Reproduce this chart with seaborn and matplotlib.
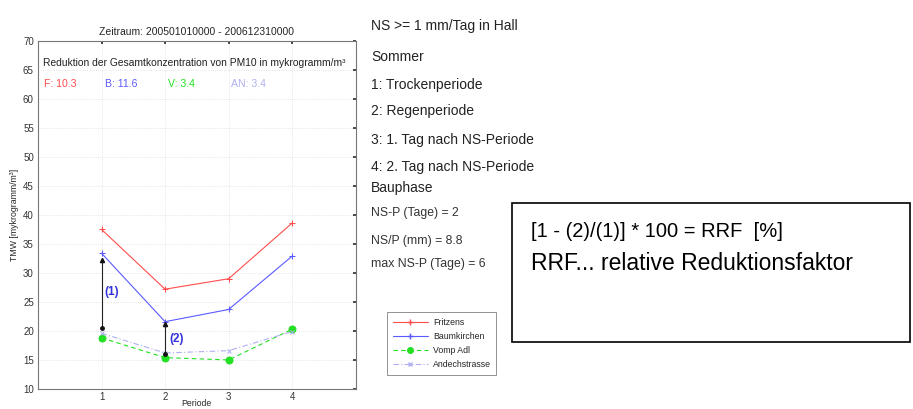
import matplotlib
matplotlib.use("Agg")
import matplotlib.pyplot as plt
import seaborn as sns
import pandas as pd
from matplotlib.patches import Rectangle
from matplotlib.lines import Line2D

sns.set_theme(style="white")
plt.rcParams['font.family'] = ['Liberation Sans', 'DejaVu Sans']

periods = [1, 2, 3, 4]
fritzens = [37.5, 27.2, 29.0, 38.6]
baumkirchen = [33.4, 21.6, 23.7, 32.9]
vomp_adl = [18.8, 15.4, 15.0, 20.3]
andechstrasse = [19.6, 16.2, 16.6, 19.9]
series_names = ["Fritzens", "Baumkirchen", "Vomp Adl", "Andechstrasse"]
reductions = ["F: 10.3", "B: 11.6", "V: 3.4", "AN: 3.4"]
arrow1 = [20.5, 32.2]
arrow2 = [16.0, 21.2]
yticks = [10, 15, 20, 25, 30, 35, 40, 45, 50, 55, 60, 65, 70]

df = pd.DataFrame({
    "Periode": periods * 4,
    "TMW": fritzens + baumkirchen + vomp_adl + andechstrasse,
    "Station": sum([[n] * 4 for n in series_names], []),
})

colors = {"Fritzens": "#ff4d4d", "Baumkirchen": "#5a5aff",
          "Vomp Adl": "#22e022", "Andechstrasse": "#b0b0f0"}
styles = {"Fritzens": dict(ls="-", marker="+", ms=5, lw=0.8),
          "Baumkirchen": dict(ls="-", marker="+", ms=5, lw=0.8),
          "Vomp Adl": dict(ls=(0, (4, 3)), marker="o", ms=5, lw=0.8),
          "Andechstrasse": dict(ls=(0, (5, 2, 1, 2)), marker="x", ms=3, lw=0.8)}

fig = plt.figure(figsize=(9.13, 4.09), dpi=100)
ax = fig.add_axes([0.0416, 0.049, 0.348, 0.851])

for name in series_names:
    st = styles[name]
    sub = df[df["Station"] == name]
    sns.lineplot(data=sub, x="Periode", y="TMW", ax=ax, color=colors[name],
                 linestyle=st["ls"], marker=st["marker"], markersize=st["ms"],
                 linewidth=st["lw"], markeredgecolor=colors[name],
                 markerfacecolor=colors[name], label=None, legend=False)

ax.set_xlim(0, 5)
ax.set_ylim(10, 70)
ax.set_xticks(periods)
ax.set_yticks(yticks)
ax.tick_params(axis="y", labelsize=7, direction="in", length=2, pad=3,
               right=True, colors="#333333")
ax.tick_params(axis="x", labelsize=7, direction="in", length=2, pad=2,
               top=True, colors="#333333")
ax.grid(True, color="#dddddd", linestyle=":", linewidth=0.6)
for sp in ax.spines.values():
    sp.set_color("#777777")
    sp.set_linewidth(0.8)
ax.set_xlabel("Periode", fontsize=6.2)
ax.xaxis.label.set_va("center")
ax.xaxis.set_label_coords(0.5, -0.042)
ax.set_ylabel("TMW [mykrogramm/m³]", fontsize=6.3, labelpad=3)
ax.set_title("Zeitraum: 200501010000 - 200612310000", fontsize=7.5, pad=4)

# annotation arrows
ax.plot([1, 1], arrow1, color="#222222", lw=0.8)
ax.plot([1], [arrow1[1]], marker="^", color="#111111", ms=3)
ax.plot([1], [arrow1[0]], marker="o", color="#111111", ms=2.5)
ax.plot([2, 2], arrow2, color="#222222", lw=0.8)
ax.plot([2], [arrow2[1]], marker="^", color="#111111", ms=3)
ax.plot([2], [arrow2[0]], marker="o", color="#111111", ms=2.5)
ax.text(1.05, 26.8, "(1)", color="#3333dd", fontsize=8.5, fontweight="bold", va="center")
ax.text(2.06, 18.6, "(2)", color="#3333dd", fontsize=8.5, fontweight="bold", va="center")

ax.text(0.08, 66.2, "Reduktion der Gesamtkonzentration von PM10 in mykrogramm/m³",
        fontsize=7.4, va="center", color="#222222")
red_x = [0.1, 1.05, 2.05, 3.03]
for xx, txt, name in zip(red_x, reductions, series_names):
    ax.text(xx, 62.6, txt, fontsize=7.6, va="center", color=colors[name])

# legend
handles = [Line2D([0], [0], color=colors[n], linestyle=styles[n]["ls"],
                  marker=styles[n]["marker"], markersize=styles[n]["ms"] * 0.8,
                  linewidth=0.8, markerfacecolor=colors[n], markeredgecolor=colors[n])
           for n in series_names]
leg = fig.legend(handles, series_names, loc="upper left",
                 bbox_to_anchor=(383 / 913, 1 - 308 / 409), fontsize=6.3,
                 frameon=True, fancybox=False, edgecolor="#777777",
                 handlelength=4.0, labelspacing=0.6, borderpad=0.6,
                 handletextpad=0.6)
leg.get_frame().set_linewidth(0.7)

# right-side texts
right_big = [("NS >= 1 mm/Tag in Hall", 26), ("Sommer", 57), ("1: Trockenperiode", 85),
             ("2: Regenperiode", 111), ("3: 1. Tag nach NS-Periode", 140),
             ("4: 2. Tag nach NS-Periode", 167), ("Bauphase", 188)]
for txt, y in right_big:
    fig.text(371 / 913, 1 - y / 409, txt, fontsize=10, va="center", color="#222222")
right_small = [("NS-P (Tage) = 2", 213), ("NS/P (mm) = 8.8", 241), ("max NS-P (Tage) = 6", 264)]
for txt, y in right_small:
    fig.text(371 / 913, 1 - y / 409, txt, fontsize=8.8, va="center", color="#333333")

box = Rectangle((512 / 913, 1 - 342 / 409), (910 - 512) / 913, (342 - 203) / 409,
                transform=fig.transFigure, fill=False, edgecolor="black", linewidth=1.2)
fig.patches.append(box)
fig.text(531 / 913, 1 - 232 / 409, "[1 - (2)/(1)] * 100 = RRF  [%]", fontsize=14.5,
         va="center", color="black")
fig.text(531 / 913, 1 - 264 / 409, "RRF... relative Reduktionsfaktor", fontsize=16.5,
         va="center", color="black")

fig.savefig("out.png", dpi=100)
